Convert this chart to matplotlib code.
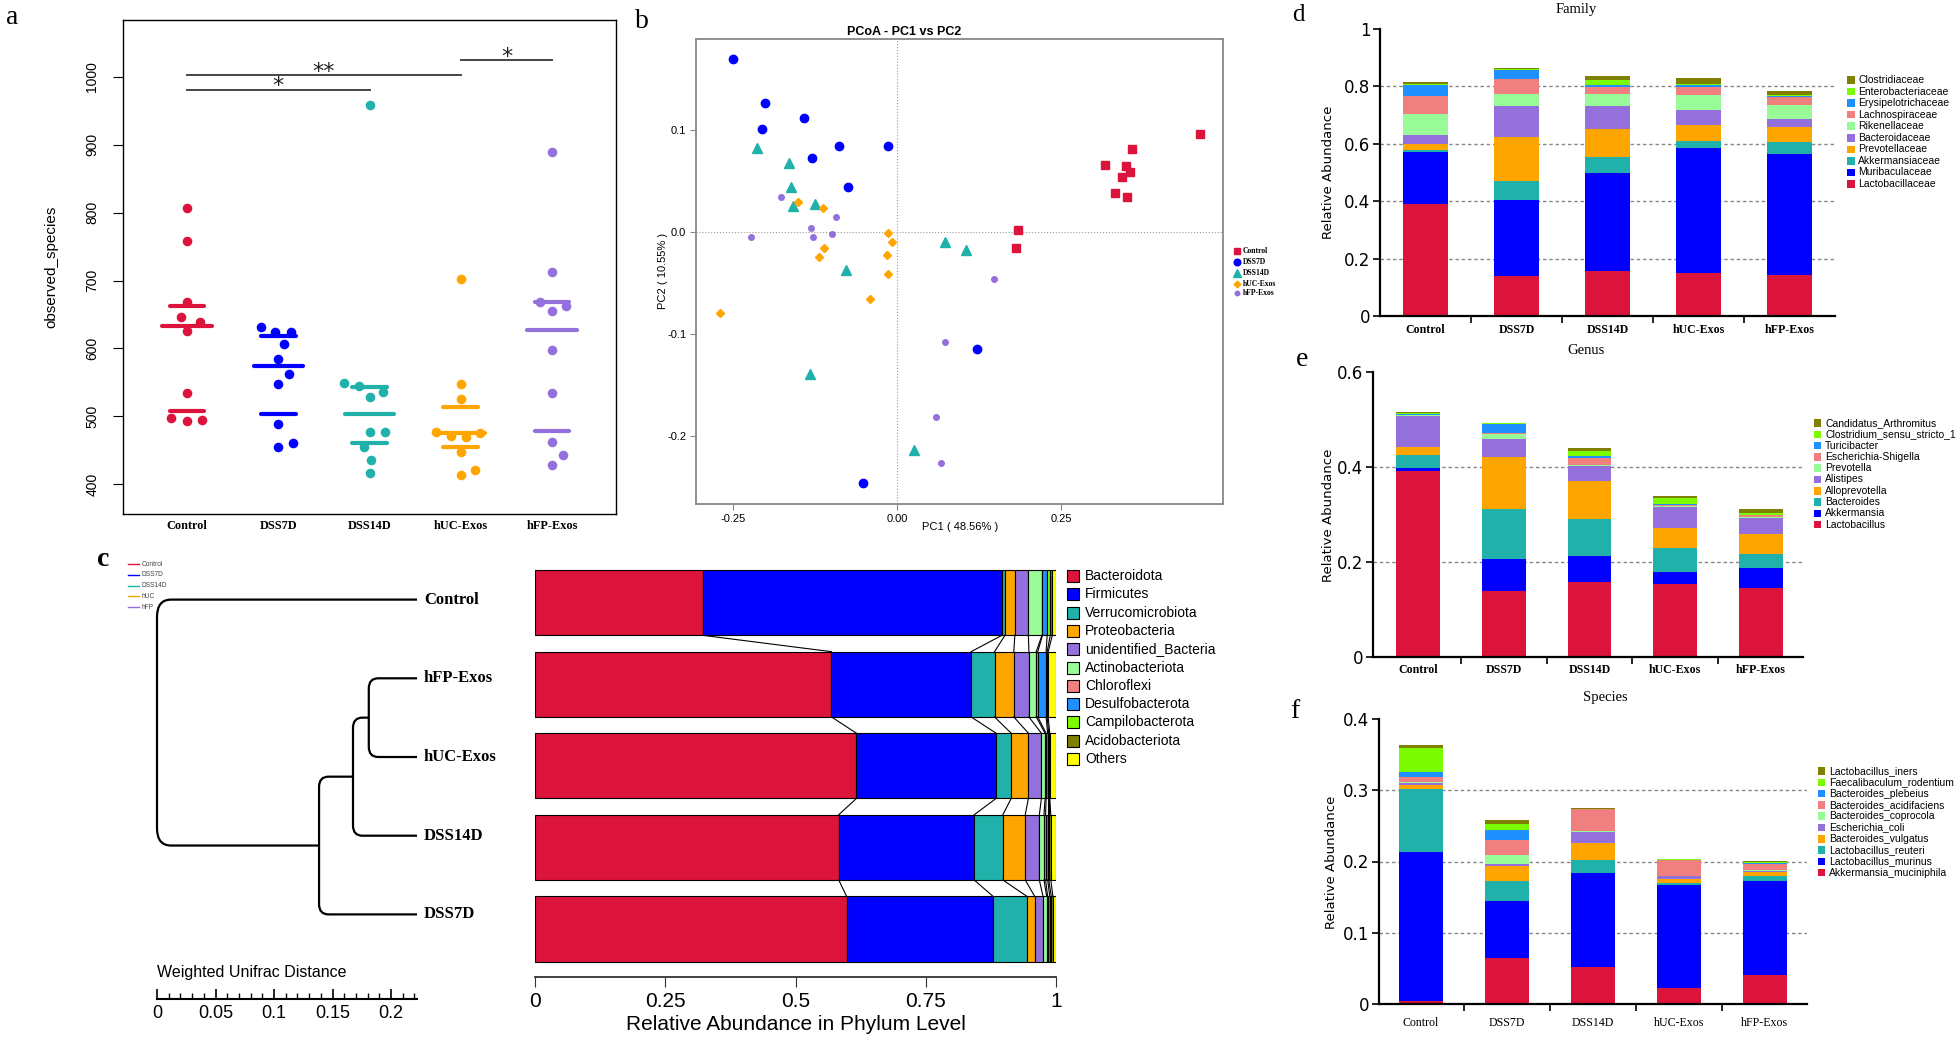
#!/usr/bin/env python
import matplotlib as mpl
mpl.use('Agg')
import matplotlib.pyplot as plt
import numpy as np
from matplotlib.patches import Rectangle, PathPatch
from matplotlib.lines import Line2D
from matplotlib.path import Path

W, H = 1960, 1040
SERIF = ['Liberation Serif', 'DejaVu Serif']
SANS = ['Liberation Sans', 'DejaVu Sans']
NARROW = ['Liberation Sans Narrow', 'Liberation Sans', 'DejaVu Sans']

groups = ['Control', 'DSS7D', 'DSS14D', 'hUC-Exos', 'hFP-Exos']
group_colors = ['#DC143C', '#0000FF', '#20B2AA', '#FFA500', '#9370DB']

# ---- a: observed species per mouse (+ beeswarm offsets)
obs_control = [807, 759, 669, 646, 639, 626, 535, 498, 493, 495]
obs_dss7d = [631, 624, 624, 606, 585, 563, 548, 489, 455, 461]
obs_dss14d = [959, 549, 544, 536, 529, 477, 477, 455, 436, 417]
obs_huc = [703, 548, 525, 477, 471, 469, 476, 448, 414, 421]
obs_hfp = [890, 713, 669, 655, 662, 598, 534, 462, 443, 428]
off_control = [0, 0, 0, -0.06, 0.14, 0, 0, -0.17, 0, 0.17]
off_dss7d = [-0.19, -0.035, 0.14, 0.06, 0, 0.12, 0, 0, 0, 0.16]
off_dss14d = [0, -0.28, -0.12, 0.145, 0, 0, 0.165, -0.065, 0.02, 0]
off_huc = [0, 0, 0, -0.275, -0.11, 0.06, 0.21, 0, 0, 0.155]
off_hfp = [0, 0, -0.13, 0, 0.15, 0, 0, 0, 0.12, 0]
obs_upper = [663, 619, 543, 513, 669]
obs_middle = [633, 574, 503, 475, 627]
obs_lower = [508, 504, 461, 454, 479]
sig_pairs = [(0, 2, '*', 981), (0, 3, '**', 1003), (3, 4, '*', 1025)]

# ---- b: PCoA coordinates
pc1_control = [0.462, 0.359, 0.317, 0.349, 0.356, 0.343, 0.333, 0.350, 0.184, 0.182]
pc2_control = [0.096, 0.081, 0.065, 0.064, 0.059, 0.054, 0.038, 0.034, 0.002, -0.016]
pc1_dss7d = [-0.250, -0.201, -0.206, -0.142, -0.129, -0.088, -0.013, -0.074, 0.122, -0.052]
pc2_dss7d = [0.169, 0.126, 0.101, 0.112, 0.072, 0.084, 0.084, 0.044, -0.115, -0.246]
pc1_dss14d = [-0.213, -0.165, -0.162, -0.158, -0.124, -0.077, 0.074, 0.105, -0.133, 0.026]
pc2_dss14d = [0.082, 0.067, 0.044, 0.025, 0.027, -0.038, -0.010, -0.018, -0.140, -0.214]
pc1_huc = [-0.150, -0.112, -0.013, -0.007, -0.111, -0.119, -0.015, -0.013, -0.041, -0.270]
pc2_huc = [0.029, 0.023, -0.001, -0.010, -0.016, -0.025, -0.023, -0.041, -0.066, -0.080]
pc1_hfp = [-0.177, -0.093, -0.131, -0.222, -0.127, -0.099, 0.148, 0.073, 0.059, 0.067]
pc2_hfp = [0.034, 0.014, 0.004, -0.005, -0.005, -0.002, -0.046, -0.108, -0.182, -0.227]

# ---- c: UPGMA tree (node positions on the distance ruler) + phylum bars
leaf_order = ['Control', 'hFP-Exos', 'hUC-Exos', 'DSS14D', 'DSS7D']
tree = ('n4', ['Control', ('n3', [('n2', [('n1', ['hFP-Exos', 'hUC-Exos']), 'DSS14D']), 'DSS7D'])])
node_x = {'n4': 0.0, 'n3': 0.1385, 'n2': 0.1675, 'n1': 0.181}
leaf_x = 0.2222

phylum_names = ['Bacteroidota', 'Firmicutes', 'Verrucomicrobiota', 'Proteobacteria',
                'unidentified_Bacteria', 'Actinobacteriota', 'Chloroflexi',
                'Desulfobacterota', 'Campilobacterota', 'Acidobacteriota', 'Others']
phylum_colors = ['#DC143C', '#0000FF', '#20B2AA', '#FFA500', '#9370DB', '#98FB98',
                 '#F08080', '#1E90FF', '#7CFC00', '#808000', '#FFFF00']
# rows follow leaf_order
phylum_vals = [
    [0.323, 0.569, 0.617, 0.583, 0.598],
    [0.573, 0.268, 0.268, 0.260, 0.281],
    [0.006, 0.045, 0.029, 0.055, 0.065],
    [0.019, 0.037, 0.033, 0.043, 0.015],
    [0.026, 0.029, 0.025, 0.027, 0.016],
    [0.026, 0.014, 0.007, 0.009, 0.007],
    [0.001, 0.003, 0.002, 0.003, 0.002],
    [0.009, 0.016, 0.003, 0.004, 0.004],
    [0.006, 0.002, 0.002, 0.002, 0.003],
    [0.004, 0.002, 0.002, 0.004, 0.003],
    [0.007, 0.015, 0.012, 0.010, 0.006],
]

taxa_colors = ['#DC143C', '#0000FF', '#20B2AA', '#FFA500', '#9370DB',
               '#98FB98', '#F08080', '#1E90FF', '#7CFC00', '#808000']

# ---- d: family
family_names = ['Lactobacillaceae', 'Muribaculaceae', 'Akkermansiaceae', 'Prevotellaceae',
                'Bacteroidaceae', 'Rikenellaceae', 'Lachnospiraceae', 'Erysipelotrichaceae',
                'Enterobacteriaceae', 'Clostridiaceae']
family_vals = [
    [0.391, 0.140, 0.158, 0.151, 0.143],
    [0.182, 0.265, 0.341, 0.436, 0.421],
    [0.004, 0.066, 0.054, 0.022, 0.042],
    [0.023, 0.153, 0.098, 0.056, 0.051],
    [0.029, 0.106, 0.079, 0.052, 0.030],
    [0.076, 0.042, 0.044, 0.054, 0.047],
    [0.060, 0.054, 0.025, 0.028, 0.029],
    [0.041, 0.030, 0.006, 0.006, 0.003],
    [0.004, 0.004, 0.016, 0.003, 0.005],
    [0.006, 0.004, 0.016, 0.020, 0.014],
]

# ---- e: genus
genus_names = ['Lactobacillus', 'Akkermansia', 'Bacteroides', 'Alloprevotella', 'Alistipes',
               'Prevotella', 'Escherichia-Shigella', 'Turicibacter',
               'Clostridium_sensu_stricto_1', 'Candidatus_Arthromitus']
genus_vals = [
    [0.391, 0.140, 0.158, 0.153, 0.145],
    [0.007, 0.066, 0.054, 0.025, 0.043],
    [0.028, 0.106, 0.079, 0.051, 0.029],
    [0.016, 0.110, 0.079, 0.043, 0.041],
    [0.065, 0.036, 0.032, 0.044, 0.035],
    [0.002, 0.011, 0.002, 0.001, 0.002],
    [0.001, 0.002, 0.015, 0.004, 0.003],
    [0.002, 0.020, 0.004, 0.002, 0.002],
    [0.002, 0.001, 0.010, 0.012, 0.004],
    [0.002, 0.001, 0.006, 0.005, 0.007],
]

# ---- f: species
species_names = ['Akkermansia_muciniphila', 'Lactobacillus_murinus', 'Lactobacillus_reuteri',
                 'Bacteroides_vulgatus', 'Escherichia_coli', 'Bacteroides_coprocola',
                 'Bacteroides_acidifaciens', 'Bacteroides_plebeius',
                 'Faecalibaculum_rodentium', 'Lactobacillus_iners']
species_vals = [
    [0.004, 0.064, 0.052, 0.023, 0.041],
    [0.210, 0.081, 0.132, 0.144, 0.132],
    [0.088, 0.028, 0.018, 0.003, 0.006],
    [0.006, 0.021, 0.024, 0.005, 0.006],
    [0.002, 0.002, 0.016, 0.004, 0.002],
    [0.002, 0.013, 0.001, 0.001, 0.001],
    [0.007, 0.021, 0.030, 0.022, 0.009],
    [0.006, 0.014, 0.0005, 0.0005, 0.001],
    [0.034, 0.008, 0.0005, 0.0005, 0.002],
    [0.004, 0.006, 0.001, 0.0005, 0.001],
]

# ==========================================================================
fig = plt.figure(figsize=(W / 100, H / 100), dpi=100)


def box(l, t, r, b):
    # pixel rectangle (from top-left) -> figure fraction
    return [l / W, 1 - b / H, (r - l) / W, (b - t) / H]


def ftext(x, y, s, **kw):
    return fig.text(x / W, 1 - y / H, s, **kw)


def side_legend(x, y0, dy, names, colors, size, tx, fs, edge='none'):
    for k, (n, c) in enumerate(zip(names, colors)):
        y = y0 + k * dy
        fig.add_artist(Rectangle(((x - size / 2) / W, 1 - (y + size / 2) / H),
                                 size / W, size / H, transform=fig.transFigure,
                                 fc=c, ec=edge, lw=0.8))
        ftext(tx, y, n, fontsize=fs, va='center', ha='left', family=NARROW)


# ---------------- a
ax = fig.add_axes(box(123, 20, 616, 514))
obs_all = [obs_control, obs_dss7d, obs_dss14d, obs_huc, obs_hfp]
off_all = [off_control, off_dss7d, off_dss14d, off_huc, off_hfp]
for i, (vals, off) in enumerate(zip(obs_all, off_all)):
    ax.scatter(i + np.array(off), vals, s=48, color=group_colors[i], lw=0, zorder=2)
    for v, hw in ((obs_upper[i], 0.19), (obs_middle[i], 0.27), (obs_lower[i], 0.19)):
        ax.plot([i - hw, i + hw], [v, v], color=group_colors[i], lw=3,
                solid_capstyle='round', zorder=3)
for g1, g2, mark, yv in sig_pairs:
    ax.plot([g1, g2], [yv, yv], color='#444444', lw=1.4)
    ax.text((g1 + g2) / 2, yv + 5, mark, ha='center', va='center', fontsize=16,
            color='#222222')
ax.set_xlim(-0.7, 4.7)
ax.set_ylim(356, 1084)
ax.set_yticks(np.arange(400, 1001, 100))
ax.set_xticks(range(5))
ax.set_xticklabels(groups, fontweight='bold')
ax.tick_params(axis='x', length=0, pad=4, labelsize=8.8, labelfontfamily=SERIF)
ax.tick_params(axis='y', length=7, pad=10, labelsize=10, labelrotation=90,
               labelfontfamily=SANS)
for lab in ax.get_yticklabels():
    lab.set_va('center')
for s in ax.spines.values():
    s.set_linewidth(1)
ftext(51, 267, 'observed_species', rotation=90, ha='center', va='center',
      fontsize=11, family=SANS)
ftext(12, 18, 'a', fontsize=20, family=SERIF, ha='center', va='center')

# ---------------- b
axb = fig.add_axes(box(696, 39, 1223, 504))
pc1_all = [pc1_control, pc1_dss7d, pc1_dss14d, pc1_huc, pc1_hfp]
pc2_all = [pc2_control, pc2_dss7d, pc2_dss14d, pc2_huc, pc2_hfp]
markers = ['s', 'o', '^', 'D', 'o']
msizes = [5.5, 6, 7, 4.2, 4]
axb.axhline(0, color='#999999', lw=0.8, ls=':', zorder=1)
axb.axvline(0, color='#999999', lw=0.8, ls=':', zorder=1)
for xs, ys, c, m, ms in zip(pc1_all, pc2_all, group_colors, markers, msizes):
    axb.plot(xs, ys, ls='none', marker=m, ms=ms, color=c, mec=c, zorder=3)
axb.set_xlim(-0.306, 0.497)
axb.set_ylim(-0.267, 0.189)
axb.set_xticks([-0.25, 0, 0.25])
axb.set_xticklabels(['-0.25', '0.00', '0.25'])
axb.set_yticks([-0.2, -0.1, 0, 0.1])
axb.set_yticklabels(['-0.2', '-0.1', '0.0', '0.1'])
axb.tick_params(length=4, color='#888888', labelsize=8, pad=3, labelfontfamily=SANS)
for s in axb.spines.values():
    s.set_color('#888888')
    s.set_linewidth(1.3)
ftext(904, 32, 'PCoA - PC1 vs PC2', fontsize=9, fontweight='bold', ha='center',
      va='center', family=SANS)
ftext(663, 271, 'PC2 ( 10.55% )', rotation=90, fontsize=8, ha='center', va='center',
      family=SANS)
ftext(960, 527, 'PC1 ( 48.56% )', fontsize=8, ha='center', va='center', family=SANS)
ftext(642, 22, 'b', fontsize=20, family=SERIF, ha='center', va='center')
for k, (g, c, m, ms) in enumerate(zip(groups, group_colors, markers, msizes)):
    y = [251, 262, 273, 284, 293][k]
    fig.add_artist(Line2D([1237 / W], [1 - y / H], marker=m, ms=ms * 0.8, color=c,
                          ls='none', transform=fig.transFigure))
    ftext(1243, y, g, fontsize=5.5, fontweight='bold', family=SERIF, va='center')

# ---------------- c: dendrogram
axd = fig.add_axes(box(157, 576, 417, 938))
axd.set_xlim(0, leaf_x)
axd.set_ylim(4.3, -0.3)
axd.axis('off')


def draw_node(node):
    if isinstance(node, str):
        return leaf_x, leaf_order.index(node)
    name, kids = node
    x0 = node_x[name]
    (x1, y1), (x2, y2) = [draw_node(k) for k in kids]
    rx, ry = (0.012, 0.22) if x0 == 0 else (0.008, 0.13)
    verts = [(x1, y1), (x0 + rx, y1), (x0, y1), (x0, y1 + ry),
             (x0, y2 - ry), (x0, y2), (x0 + rx, y2), (x2, y2)]
    codes = [Path.MOVETO, Path.LINETO, Path.CURVE3, Path.CURVE3,
             Path.LINETO, Path.CURVE3, Path.CURVE3, Path.LINETO]
    axd.add_patch(PathPatch(Path(verts, codes), fill=False, lw=1.6, ec='black',
                            clip_on=False))
    return x0, (y1 + y2) / 2


draw_node(tree)
for i, name in enumerate(leaf_order):
    axd.text(leaf_x + 0.006, i, name, fontsize=12, fontweight='bold', family=SERIF,
             va='center', ha='left', clip_on=False)

# distance ruler
axs = fig.add_axes(box(157, 998, 417, 999))
axs.set_xlim(0, leaf_x)
axs.set_yticks([])
for s in ['left', 'right', 'top']:
    axs.spines[s].set_visible(False)
axs.spines['bottom'].set_linewidth(1.5)
axs.set_xticks([0, 0.05, 0.1, 0.15, 0.2])
axs.set_xticklabels(['0', '0.05', '0.1', '0.15', '0.2'])
axs.set_xticks(np.arange(0, 0.221, 0.01), minor=True)
axs.tick_params(axis='x', which='major', direction='in', length=7, width=1.2,
                labelsize=13, pad=4, labelfontfamily=SANS)
axs.tick_params(axis='x', which='minor', direction='in', length=4, width=1)
ftext(157, 973, 'Weighted Unifrac Distance', fontsize=11.5, ha='left', va='center',
      family=SANS)

# small colour key
for k, (g, c) in enumerate(zip(['Control', 'DSS7D', 'DSS14D', 'hUC', 'hFP'], group_colors)):
    y = 564 + k * 10.8
    fig.add_artist(Line2D([128 / W, 139 / W], [1 - y / H] * 2, color=c, lw=1,
                          transform=fig.transFigure))
    ftext(142, y, g, fontsize=4.8, va='center', color='#444444', family=SANS)
ftext(103, 560, 'c', fontsize=20, fontweight='bold', family=SERIF, ha='center',
      va='center')

# ---------------- c: phylum bars
axc = fig.add_axes(box(535, 562, 1056, 977))
left = np.zeros(5)
bounds = []
for name, vals, col in zip(phylum_names, phylum_vals, phylum_colors):
    axc.barh(range(5), vals, left=left, height=0.8, color=col, edgecolor='black', lw=0.8)
    left = left + np.array(vals)
    bounds.append(left.copy())
for b in bounds[:-1]:
    for i in range(4):
        axc.plot([b[i], b[i + 1]], [i + 0.4, i + 0.6], color='black', lw=0.8)
axc.set_xlim(0, 1)
axc.set_ylim(4.59, -0.5)
axc.set_yticks([])
for s in ['left', 'right', 'top']:
    axc.spines[s].set_visible(False)
axc.spines['bottom'].set_linewidth(1.3)
axc.spines['bottom'].set_color('#333333')
axc.set_xticks([0, 0.25, 0.5, 0.75, 1])
axc.set_xticklabels(['0', '0.25', '0.5', '0.75', '1'])
axc.tick_params(axis='x', length=7, color='#333333', labelsize=15, pad=4,
                labelfontfamily=NARROW)
ftext(796, 1024, 'Relative Abundance in Phylum Level', fontsize=15, ha='center',
      va='center', family=NARROW)
side_legend(1073, 576, 18.3, phylum_names, phylum_colors, 12, 1085, 10, edge='black')


# ---------------- d, e, f
def abundance_panel(rect_px, xlim, ymax, ystep, vals, bar_w, lab_pad, bold):
    a = fig.add_axes(box(*rect_px))
    bottom = np.zeros(5)
    for v, c in zip(vals, taxa_colors):
        a.bar(range(5), v, bottom=bottom, width=bar_w, color=c, lw=0, zorder=2)
        bottom = bottom + np.array(v)
    ticks = np.round(np.arange(0, ymax + 1e-9, ystep), 3)
    for g in ticks[1:-1]:
        a.axhline(g, color='#888888', ls=(0, (2.5, 2)), lw=1, zorder=1)
    a.set_xlim(*xlim)
    a.set_ylim(0, ymax)
    a.set_yticks(ticks)
    a.set_yticklabels(['%g' % t for t in ticks])
    a.set_xticks(range(5))
    a.set_xticklabels(groups, fontweight='bold' if bold else 'normal')
    a.set_xticks([0.5, 1.5, 2.5, 3.5], minor=True)
    a.tick_params(axis='x', which='major', length=0, pad=lab_pad, labelsize=8.6,
                  labelfontfamily=SERIF)
    a.tick_params(axis='x', which='minor', length=5, width=1.2)
    a.tick_params(axis='y', length=5, width=1.2, labelsize=12, pad=2,
                  labelfontfamily=['DejaVu Sans'])
    for s in ['right', 'top']:
        a.spines[s].set_visible(False)
    for s in ['left', 'bottom']:
        a.spines[s].set_linewidth(1.6)
    return a


abundance_panel((1380, 29, 1835, 316), (-0.5, 4.5), 1.0, 0.2, family_vals, 0.5, 6, True)
ftext(1329, 172, 'Relative Abundance', rotation=90, fontsize=9.5, ha='center',
      va='center', family=['DejaVu Sans'])
ftext(1576, 9, 'Family', fontsize=10.5, ha='center', va='center', family=SERIF)
ftext(1298, 15, 'd', fontsize=18, ha='center', va='center', family=SERIF)
side_legend(1851, 80, 11.55, family_names[::-1], taxa_colors[::-1], 7.5, 1858, 7.5)

abundance_panel((1373, 372, 1803, 657), (-0.525, 4.49), 0.6, 0.2, genus_vals, 0.51, 5, True)
ftext(1328, 515, 'Relative Abundance', rotation=90, fontsize=9.5, ha='center',
      va='center', family=['DejaVu Sans'])
ftext(1586, 350, 'Genus', fontsize=10.5, ha='center', va='center', family=SERIF)
ftext(1302, 360, 'e', fontsize=20, ha='center', va='center', family=SERIF)
side_legend(1817.5, 423, 11.3, genus_names[::-1], taxa_colors[::-1], 7.5, 1825, 7.5)

abundance_panel((1379, 719, 1807, 1004), (-0.49, 4.49), 0.4, 0.1, species_vals, 0.52, 9, False)
ftext(1331, 862, 'Relative Abundance', rotation=90, fontsize=9.5, ha='center',
      va='center', family=['DejaVu Sans'])
ftext(1605, 697, 'Species', fontsize=10.5, ha='center', va='center', family=SERIF)
ftext(1295, 712, 'f', fontsize=20, ha='center', va='center', family=SERIF)
side_legend(1821.5, 771, 11.3, species_names[::-1], taxa_colors[::-1], 7.5, 1829, 7.5)

fig.savefig('out.png', dpi=100)
